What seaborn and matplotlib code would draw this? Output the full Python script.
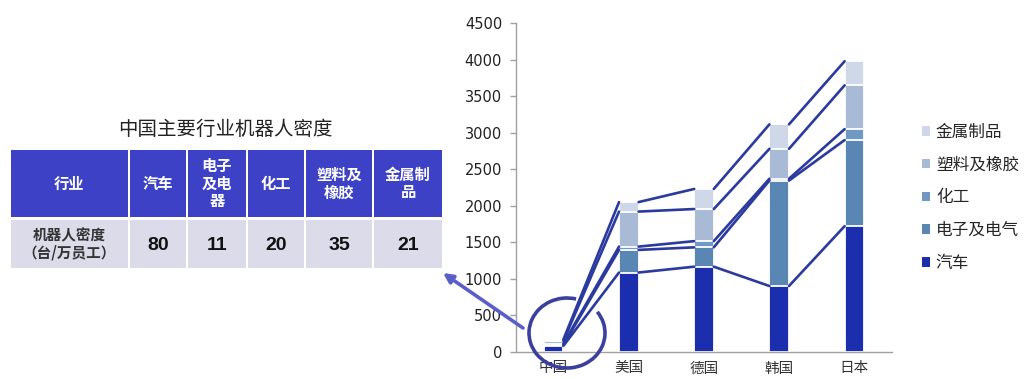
import numpy as np
import pandas as pd
import matplotlib
matplotlib.use("Agg")
import matplotlib.pyplot as plt
import seaborn as sns
from matplotlib.patches import Rectangle, Arc, FancyArrowPatch, Patch

# ---------------- data ----------------
countries = ["中国", "美国", "德国", "韩国", "日本"]
industries = ["汽车", "电子及电气", "化工", "塑料及橡胶", "金属制品"]
auto = [80, 1085, 1165, 900, 1720]
electronics = [11, 310, 265, 1445, 1180]
chemical = [20, 45, 85, 25, 150]
plastics = [35, 480, 440, 410, 600]
metal = [21, 130, 275, 335, 330]
yticks = [0, 500, 1000, 1500, 2000, 2500, 3000, 3500, 4000, 4500]

table_title = "中国主要行业机器人密度"
table_header = ["行业", "汽车", "电子\n及电\n器", "化工", "塑料及\n橡胶", "金属制\n品"]
table_row_label = "机器人密度\n（台/万员工）"
table_values = [80, 11, 20, 35, 21]

# ---------------- style ----------------
colors = ["#1b2fae", "#5a86b4", "#6f98c2", "#a8bad6", "#cfd8e8"]
line_color = "#2b3a9e"

sns.set_theme(style="white")
plt.rcParams['font.family'] = ['Noto Sans CJK SC', 'DejaVu Sans']

W, H = 1024, 379
fig = plt.figure(figsize=(W / 100, H / 100), dpi=100)
fig.patch.set_facecolor("white")

# chart axes
ax_l, ax_r, ax_t, ax_b = 516, 892, 23.3, 351.7
ax = fig.add_axes([ax_l / W, 1 - ax_b / H, (ax_r - ax_l) / W, (ax_b - ax_t) / H])
ax.set_facecolor("none")

data = np.vstack([auto, electronics, chemical, plastics, metal])
cum = np.cumsum(data, axis=0)
bw = 0.26
for k in reversed(range(len(industries))):
    df = pd.DataFrame({"country": countries, "value": cum[k]})
    sns.barplot(data=df, x="country", y="value", color=colors[k], width=bw,
                saturation=1, edgecolor="white", linewidth=1.3, ax=ax, zorder=2)

for k in range(len(industries)):
    for i in range(len(countries) - 1):
        ax.plot([i + bw / 2, i + 1 - bw / 2], [cum[k][i], cum[k][i + 1]],
                color=line_color, lw=1.9, zorder=3, solid_capstyle="round")

ax.set_xlim(-0.5, len(countries) - 0.5)
ax.set_ylim(0, 4500)
ax.set_yticks(yticks)
ax.set_yticklabels([str(v) for v in yticks], family="DejaVu Sans", fontsize=10.5, color="#222222")
ax.set_xlabel("")
ax.set_ylabel("")
for lab in ax.get_xticklabels():
    lab.set_fontsize(10.5)
    lab.set_color("#333333")
for s in ["top", "right"]:
    ax.spines[s].set_visible(False)
for s in ["left", "bottom"]:
    ax.spines[s].set_color("#a0a0a0")
    ax.spines[s].set_linewidth(1.0)
ax.tick_params(axis="y", which="major", left=True, length=4, width=1, color="#a0a0a0", pad=6)
ax.tick_params(axis="x", which="major", bottom=False, pad=1)

handles = [Patch(facecolor=colors[k], edgecolor="none") for k in reversed(range(len(industries)))]
labels = list(reversed(industries))
fig.legend(handles, labels, loc="upper left", bbox_to_anchor=(915 / W, 1 - 117 / H),
           frameon=False, fontsize=12, handlelength=0.5, handleheight=0.5,
           handletextpad=0.35, labelspacing=0.95, borderaxespad=0)

# ---------------- overlay: table, arrow, circle ----------------
oax = fig.add_axes([0, 0, 1, 1], zorder=5)
oax.set_xlim(0, W)
oax.set_ylim(H, 0)
oax.axis("off")
oax.patch.set_alpha(0)

oax.text(225, 129, table_title, ha="center", va="center", fontsize=14, color="#222222")

col_edges = [10, 129, 187, 247, 305, 373, 443]
head_y0, head_y1 = 150, 217
row_y0, row_y1 = 220, 268
head_color = "#3c41c6"
row_color = "#dcdbea"
for j in range(len(col_edges) - 1):
    x0, x1 = col_edges[j], col_edges[j + 1]
    oax.add_patch(Rectangle((x0 + 1, head_y0), x1 - x0 - 2, head_y1 - head_y0,
                            facecolor=head_color, edgecolor="none"))
    oax.add_patch(Rectangle((x0 + 1, row_y0), x1 - x0 - 2, row_y1 - row_y0,
                            facecolor=row_color, edgecolor="none"))
    cx = (x0 + x1) / 2
    oax.text(cx, (head_y0 + head_y1) / 2, table_header[j], ha="center", va="center",
             fontsize=11, color="white", fontweight="bold", linespacing=1.15)
    if j == 0:
        oax.text(cx, (row_y0 + row_y1) / 2, table_row_label, ha="center", va="center",
                 fontsize=10.5, color="#333333", fontweight="bold", linespacing=1.15)
    else:
        oax.text(cx, (row_y0 + row_y1) / 2 + 1, str(table_values[j - 1]), ha="center", va="center",
                 fontsize=14, color="#111111", fontweight="bold", family="Liberation Sans")

arrow = FancyArrowPatch((523, 328), (443, 273), arrowstyle="-|>", mutation_scale=14,
                        color="#5a5fc8", lw=2.6, shrinkA=0, shrinkB=0)
oax.add_patch(arrow)
oax.add_patch(Arc((567, 333), 76, 70, theta1=325, theta2=645, color="#3b3f9e", lw=2.6))

fig.savefig("out.png", dpi=100, facecolor="white")
